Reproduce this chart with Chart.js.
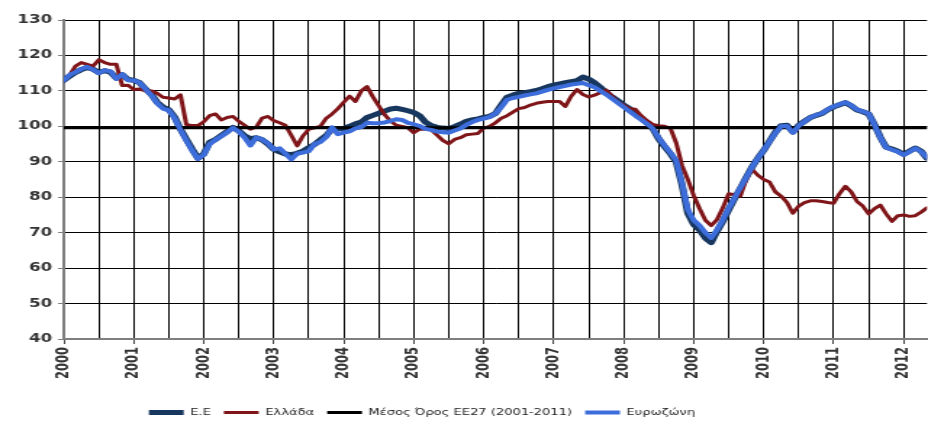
<!DOCTYPE html>
<html>
<head>
<meta charset="utf-8">
<script src="https://cdn.jsdelivr.net/npm/chart.js@4.4.1/dist/chart.umd.min.js"></script>
<style>
  html, body { margin: 0; padding: 0; background: #fff; overflow: hidden; }
  #chart { display: block; }
</style>
</head>
<body>
<canvas id="chart" width="640" height="427" style="width:928px;height:427px"></canvas>
<script>
// Monthly index values, January 2000 to May 2012
const startYear = 2000;
const yearTicks = [2000, 2001, 2002, 2003, 2004, 2005, 2006, 2007, 2008, 2009, 2010, 2011, 2012];
const yTicks = [40, 50, 60, 70, 80, 90, 100, 110, 120, 130];
const seriesNames = ['Ε.Ε', 'Ελλάδα', 'Μέσος Όρος ΕΕ27 (2001-2011)', 'Ευρωζώνη'];

const eu = [
  113, 114.2, 115.2, 116, 116.6, 116.1, 115.2, 115.7, 115.3, 113.6, 114.6, 113.2,
  113, 112.3, 110.5, 109, 106.8, 105.4, 104.7, 102.6, 99.2, 96.4, 93.6, 91,
  92.2, 95.5, 96.3, 97.4, 98.5, 99.7, 98.7, 97.3, 96.5, 96.8, 96.2, 95,
  93.5, 92.8, 92.2, 92, 92.4, 93, 94, 94.9, 96.2, 97.4, 99.3, 99.4,
  99.4, 100, 100.7, 101.2, 102.5, 103.1, 103.7, 104.3, 104.9, 105.1, 104.8, 104.4,
  103.9, 103, 101.2, 100.2, 99.7, 99.5, 99.4, 99.9, 100.6, 101.4, 101.8, 102.1,
  102.5, 102.8, 103.6, 106, 108.2, 108.8, 109.3, 109.5, 109.8, 110.1, 110.6, 111.2,
  111.6, 112, 112.3, 112.6, 112.9, 113.9, 113.3, 112.3, 111, 109.5, 108.3, 107.2,
  106, 105, 103.6, 102.3, 100.9, 99.3, 96.5, 94.3, 92.3, 90, 83.5, 75.5,
  72.3, 70.8, 68.5, 67.2, 70.4, 73.2, 76.5, 79.6, 82.5, 85.5, 88.5, 91,
  93.2, 95.8, 98.3, 100.2, 100.3, 98.4, 100.3, 101.4, 102.5, 103.1, 103.6, 104.7,
  105.5, 106.1, 106.7, 105.8, 104.6, 104.1, 103.5, 100.5, 96.9, 94.1, 93.6, 93,
  92.1, 93, 93.9, 93, 91
];

const greece = [
  113, 114.5, 117, 118, 117.5, 117, 118.8, 118, 117.5, 117.5, 111.5, 111.6,
  110.4, 110.5, 110, 110, 109.3, 108.2, 108, 107.7, 108.9, 100.5, 100.2, 100.2,
  101.3, 103, 103.5, 101.8, 102.5, 102.8, 101.4, 100.3, 99.2, 99.8, 102.3, 102.8,
  101.6, 101, 100.3, 97.5, 94.5, 97.3, 99.2, 99.6, 100, 102.3, 103.5, 105,
  106.8, 108.5, 107, 110, 111.2, 108.3, 105.8, 103.3, 101.5, 100.3, 100, 99.6,
  98.2, 99.2, 99.2, 99, 97.5, 96, 95.1, 96.3, 96.8, 97.6, 97.8, 98,
  99.5, 100, 101, 102.3, 103, 104, 105, 105.3, 106, 106.5, 106.8, 107,
  107, 107, 105.6, 108.5, 110.4, 109, 108.3, 108.8, 109.5, 110.2, 108.5, 106.8,
  106, 105, 104.8, 103, 101.6, 100.5, 100.2, 100, 99.5, 95.3, 89, 85,
  80.5, 76.8, 73.5, 72, 73.7, 77, 81, 80.7, 80.3, 85, 87.9, 86.2,
  85, 84.3, 81.5, 80.3, 78.5, 75.5, 77.5, 78.5, 79, 79, 78.8, 78.5,
  78.3, 81, 83.1, 81.5, 78.8, 77.5, 75.3, 76.8, 77.8, 75.3, 73.2, 74.8,
  75, 74.6, 74.8, 75.8, 77
];

const euroArea = [
  113, 114.5, 115.3, 116.2, 116.8, 116, 115, 115.8, 115.5, 113.4, 114.7, 113,
  113, 112.3, 110.5, 108.8, 106.5, 105, 104.5, 102.3, 99, 96, 93.2, 90.8,
  92, 95, 96.2, 97.2, 98.3, 99.6, 98.5, 96.8, 94.6, 96.8, 96.3, 95.2,
  93.5, 93.8, 92.3, 90.7, 92.3, 92.6, 93, 95, 95.6, 97, 99.7, 97.8,
  98.2, 98.6, 99.4, 99.8, 101, 100.9, 100.9, 101.1, 101.5, 102, 101.8, 101,
  100.6, 100.1, 99.3, 99, 98.5, 98.3, 98.2, 98.8, 99.4, 100.4, 101.2, 101.8,
  102.2, 102.6, 103.6, 105.4, 107.5, 108, 108.3, 108.7, 109, 109.3, 109.8, 110.3,
  110.7, 111.1, 111.4, 111.8, 112, 112.2, 111.6, 111, 110, 109, 107.8, 106.6,
  105.4, 104.2, 103, 101.9, 100.7, 99.4, 96.8, 94.6, 92.6, 90.4, 84, 76.5,
  73.5, 72, 70, 68.5, 70.8, 73.6, 76.9, 79.8, 82.7, 85.5, 88.5, 91,
  93.2, 95.7, 98.1, 100, 100.1, 98.2, 100.1, 101.3, 102.5, 103.2, 103.7, 104.8,
  105.6, 106.2, 106.8, 105.9, 104.7, 104.2, 103.6, 100.4, 96.8, 94, 93.4, 92.8,
  91.9, 92.8, 93.8, 92.8, 91.3
];

// EU27 average for 2001-2011, drawn across the whole period
const eu27Average = [99.6, 99.6];

const monthCount = eu.length;
const endValue = startYear + (monthCount - 1) / 12;

function monthly(values) {
  return values.map((v, i) => ({ x: startYear + i / 12, y: v }));
}

const avgPoints = [
  { x: startYear, y: eu27Average[0] },
  { x: endValue, y: eu27Average[1] }
];

// Gridlines every half year, labels on whole years
const gridTicks = [];
yearTicks.forEach(y => { gridTicks.push(y); if (y + 0.5 <= endValue) gridTicks.push(y + 0.5); });

// Legend row sits a little left of the chart's centre
const legendShift = {
  id: 'legendShift',
  afterLayout(chart) {
    const lg = chart.legend;
    if (lg) { lg.left -= 29; lg.right -= 29; }
  }
};

Chart.defaults.font.family = "'DejaVu Sans', Verdana, sans-serif";

new Chart(document.getElementById('chart'), {
  type: 'line',
  data: {
    datasets: [
      { label: seriesNames[0], data: monthly(eu), borderColor: '#17375e', backgroundColor: '#17375e', borderWidth: 5, order: 3 },
      { label: seriesNames[1], data: monthly(greece), borderColor: '#7f1518', backgroundColor: '#7f1518', borderWidth: 3, order: 2 },
      { label: seriesNames[2], data: avgPoints, borderColor: '#000000', backgroundColor: '#000000', borderWidth: 3, order: 1 },
      { label: seriesNames[3], data: monthly(euroArea), borderColor: '#3d6ddb', backgroundColor: '#3d6ddb', borderWidth: 4, order: 0 }
    ]
  },
  plugins: [legendShift],
  options: {
    responsive: false,
    devicePixelRatio: 1,
    animation: false,
    parsing: false,
    elements: {
      point: { radius: 0, hoverRadius: 0 },
      line: { tension: 0, borderJoinStyle: 'round', borderCapStyle: 'round' }
    },
    layout: { padding: { top: 20, right: 0, bottom: 0, left: 0 } },
    plugins: {
      title: { display: false },
      tooltip: { enabled: false },
      legend: {
        position: 'bottom',
        labels: {
          usePointStyle: true,
          pointStyle: 'line',
          pointStyleWidth: 24,
          padding: 9,
          color: '#222',
          font: { size: 9 },
          sort: (a, b) => a.datasetIndex - b.datasetIndex
        }
      }
    },
    scales: {
      x: {
        type: 'linear',
        min: startYear,
        max: endValue,
        afterBuildTicks: scale => { scale.ticks = gridTicks.map(v => ({ value: v })); },
        afterFit: scale => { scale.height = 60; },
        ticks: {
          autoSkip: false,
          minRotation: 90,
          maxRotation: 90,
          padding: 3,
          color: '#333',
          font: { size: 11.5, weight: 'bold' },
          callback: v => (Number.isInteger(v) ? String(v) : '')
        },
        grid: {
          color: '#000',
          lineWidth: 1,
          borderDash: [3, 2],
          drawTicks: true,
          tickLength: 5,
          tickBorderDash: [],
          tickColor: ctx => (ctx.tick && Number.isInteger(ctx.tick.value) ? '#444' : 'rgba(0,0,0,0)')
        },
        border: { display: true, color: '#7f7f7f', width: 2 }
      },
      y: {
        min: yTicks[0],
        max: yTicks[yTicks.length - 1],
        afterBuildTicks: scale => { scale.ticks = yTicks.map(v => ({ value: v })); },
        afterFit: scale => { scale.width = 44; },
        ticks: {
          padding: 4,
          color: '#333',
          font: { size: 11.5, weight: 'bold' }
        },
        grid: {
          color: '#000',
          lineWidth: 1,
          borderDash: [3, 2],
          tickLength: 4,
          tickBorderDash: [],
          tickColor: '#7f7f7f'
        },
        border: { display: true, color: '#7f7f7f', width: 2 }
      }
    }
  }
});
</script>
</body>
</html>
